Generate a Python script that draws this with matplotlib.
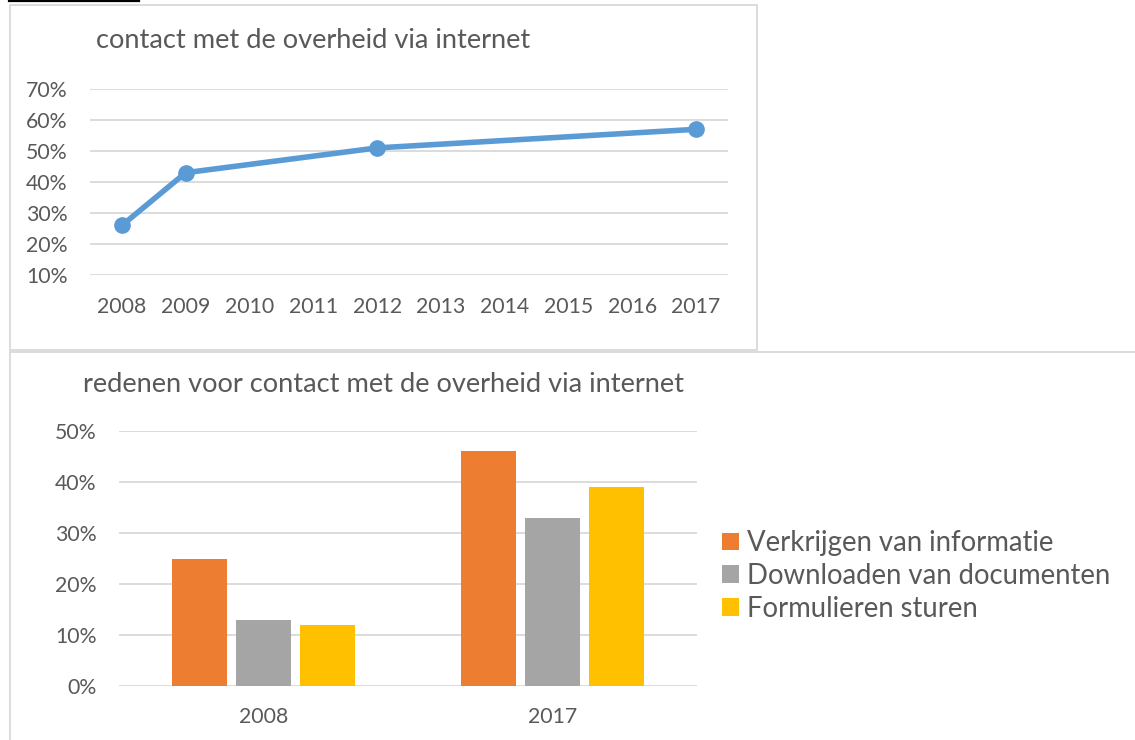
import matplotlib
matplotlib.use("Agg")
import matplotlib.pyplot as plt
from matplotlib.lines import Line2D
from matplotlib.patches import Rectangle
from matplotlib.ticker import PercentFormatter

plt.rcParams['font.family'] = ['Lato', 'DejaVu Sans']

# ---- data ----
line_title = "contact met de overheid via internet"
line_years = [2008, 2009, 2012, 2017]
line_values = [26, 43, 51, 57]
line_ticks = list(range(2008, 2018))
line_yticks = [10, 20, 30, 40, 50, 60, 70]

bar_title = "redenen voor contact met de overheid via internet"
bar_categories = ["2008", "2017"]
bar_series = ["Verkrijgen van informatie", "Downloaden van documenten", "Formulieren sturen"]
bar_verkrijgen = [25, 46]
bar_downloaden = [13, 33]
bar_formulieren = [12, 39]
bar_yticks = [0, 10, 20, 30, 40, 50]

W, H = 1135, 740
TXT = "#595959"
GRID = "#D9D9D9"
BLUE = "#5B9BD5"
COLORS = ["#ED7D31", "#A5A5A5", "#FFC000"]

fig = plt.figure(figsize=(W / 100, H / 100), dpi=100)
fig.patch.set_facecolor("white")


def px_axes(l, t, r, b):
    return fig.add_axes([l / W, 1 - b / H, (r - l) / W, (b - t) / H])


def fx(x):
    return x / W


def fy(y):
    return 1 - y / H


# borders
fig.add_artist(Line2D([fx(9), fx(139)], [fy(1), fy(1)], color="black", lw=1.6))
fig.add_artist(Rectangle((fx(9.5), fy(350)), fx(757) - fx(9.5), fy(4.5) - fy(350),
                         fill=False, edgecolor=GRID, lw=1.3))
fig.add_artist(Rectangle((fx(9.5), fy(745)), fx(1140) - fx(9.5), fy(352.5) - fy(745),
                         fill=False, edgecolor=GRID, lw=1.3))

TICK = 15.3
TITLE = 19.6

# ---- top line chart ----
ax1 = px_axes(90, 89, 728, 275)
ax1.plot(line_years, line_values, color=BLUE, lw=4, marker="o", markersize=11,
         solid_capstyle="round", zorder=3)
ax1.set_xlim(2007.5, 2017.5)
ax1.set_ylim(10, 70)
ax1.set_xticks(line_ticks)
ax1.set_xticklabels([str(y) for y in line_ticks])
ax1.set_yticks(line_yticks)
ax1.yaxis.set_major_formatter(PercentFormatter(decimals=0))
ax1.grid(axis="y", color=GRID, lw=1.3)
ax1.set_axisbelow(True)
for s in ax1.spines.values():
    s.set_visible(False)
ax1.tick_params(length=0, labelsize=TICK, colors=TXT)
ax1.tick_params(axis="y", pad=16)
ax1.tick_params(axis="x", pad=16)
fig.text(fx(96), fy(40), line_title, fontsize=TITLE, color=TXT, va="center", ha="left")

# ---- bottom bar chart ----
ax2 = px_axes(119, 431, 697, 686)
x = range(len(bar_categories))
offsets = [-0.221, 0.0, 0.221]
series_vals = [bar_verkrijgen, bar_downloaden, bar_formulieren]
handles = []
for vals, off, col, name in zip(series_vals, offsets, COLORS, bar_series):
    h = ax2.bar([i + off for i in x], vals, width=0.19, color=col, label=name, zorder=3)
    handles.append(h)
ax2.set_xlim(-0.5, 1.5)
ax2.set_ylim(0, 50)
ax2.set_xticks(list(x))
ax2.set_xticklabels(bar_categories)
ax2.set_yticks(bar_yticks)
ax2.yaxis.set_major_formatter(PercentFormatter(decimals=0))
ax2.grid(axis="y", color=GRID, lw=1.3)
ax2.set_axisbelow(True)
for s in ax2.spines.values():
    s.set_visible(False)
ax2.tick_params(length=0, labelsize=TICK, colors=TXT)
ax2.tick_params(axis="y", pad=16)
ax2.tick_params(axis="x", pad=15)
fig.text(fx(83), fy(385), bar_title, fontsize=TITLE, color=TXT, va="center", ha="left")

leg = fig.legend(handles=handles, labels=bar_series, loc="upper left",
                 bbox_to_anchor=(fx(722), fy(530)), frameon=False, fontsize=19.8,
                 handlelength=0.6, handleheight=0.6, handletextpad=0.3,
                 labelspacing=0.25, borderaxespad=0, borderpad=0)
for t in leg.get_texts():
    t.set_color(TXT)

fig.savefig("out.png", dpi=100, facecolor="white")
